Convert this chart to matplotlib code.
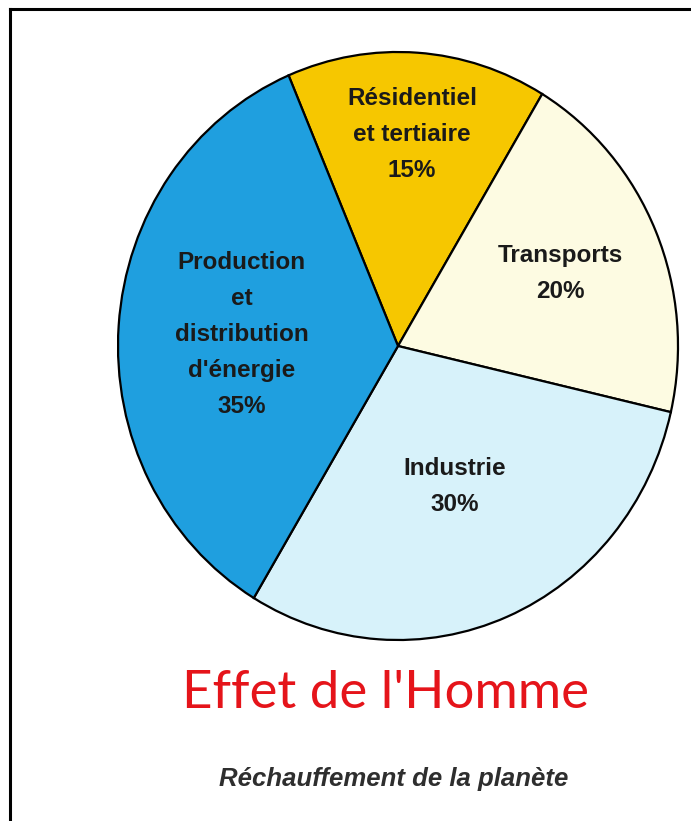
import numpy as np
import matplotlib
matplotlib.use("Agg")
import matplotlib.pyplot as plt
from matplotlib.lines import Line2D

# Data
categories = ["Résidentiel\net tertiaire", "Transports", "Industrie",
              "Production\net\ndistribution\nd'énergie"]
shares = [15, 20, 30, 35]
colors = ["#f6c700", "#fdfbe2", "#d7f2fa", "#1f9fdf"]
title = "Effet de l'Homme"
subtitle = "Réchauffement de la planète"

W, H = 691, 821
fig = plt.figure(figsize=(W / 100, H / 100), dpi=100)
fig.patch.set_facecolor("white")

# pie bounding box in pixels (slightly elliptical scan)
left, right, top, bottom = 118, 678, 52, 640
ax = fig.add_axes([left / W, 1 - bottom / H, (right - left) / W, (bottom - top) / H])
wedges, _ = ax.pie(shares, colors=colors, startangle=113, counterclock=False,
                   radius=1.0,
                   wedgeprops=dict(edgecolor="black", linewidth=1.6))
ax.set_aspect("auto")
ax.set_xlim(-1, 1)
ax.set_ylim(-1, 1)
ax.axis("off")
for w in wedges:
    w.set_clip_on(False)

dists = [0.72, 0.63, 0.52, 0.56]
for w, cat, val, d in zip(wedges, categories, shares, dists):
    ang = np.deg2rad((w.theta1 + w.theta2) / 2)
    ax.text(d * np.cos(ang), d * np.sin(ang), f"{cat}\n{val}%",
            ha="center", va="center", fontsize=17.5, fontweight="bold",
            family="Liberation Sans", color="#1a1a1a", linespacing=1.72)

# Titles
fig.text(385 / W, 1 - 693 / H, title, ha="center", va="center",
         fontsize=38, family="Lato", color="#e5141a")
fig.text(394 / W, 1 - 779 / H, subtitle, ha="center", va="center",
         fontsize=18.5, family="Liberation Sans", fontweight="bold",
         fontstyle="italic", color="#2e2e2e")

# Frame (left and top edges visible)
fig.add_artist(Line2D([10 / W, 10 / W], [0, 1 - 9 / H], color="black", lw=2.2,
                      transform=fig.transFigure))
fig.add_artist(Line2D([10 / W, 1], [1 - 9 / H, 1 - 9 / H], color="black", lw=2.2,
                      transform=fig.transFigure))

fig.savefig("out.png", dpi=100)
